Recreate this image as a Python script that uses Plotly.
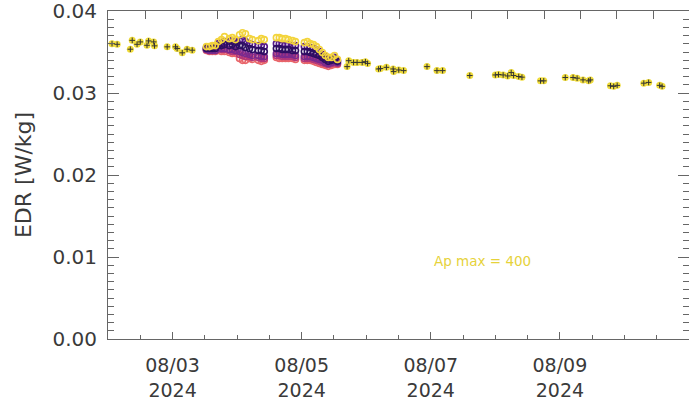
import pandas as pd
import plotly.graph_objects as go

base = pd.Timestamp("2024-08-02 00:00")

# Sparse EDR samples (hours since 2024-08-02 00:00)
sparse_hours = [1.5, 3.4, 8.3, 9.0, 10.8, 12.0, 14.5, 15.1, 17.0, 17.3, 22.0, 25.1, 25.7, 27.6, 29.4, 31.3,
                88.9, 89.5, 91.3, 92.6, 94.5, 95.7, 96.5, 100.6, 101.3, 103.5, 106.0, 106.2, 108.1, 109.9,
                118.6, 122.3, 124.4, 134.5, 144.0, 145.2, 146.9, 148.6, 149.9, 150.8, 152.7, 153.9,
                160.8, 162.0, 170.0, 172.9, 174.4, 176.6, 178.7, 179.3, 186.8, 188.0, 189.3,
                199.2, 201.0, 205.1, 206.0]
sparse_edr = [0.03602, 0.03594, 0.03534, 0.03642, 0.03594, 0.03623, 0.03582, 0.03635, 0.03623, 0.03575,
              0.03563, 0.03563, 0.03542, 0.03490, 0.03534, 0.03522,
              0.03322, 0.03394, 0.03373, 0.03373, 0.03373, 0.03382, 0.03361, 0.03293, 0.03298, 0.03313,
              0.03293, 0.03261, 0.03281, 0.03273, 0.03322, 0.03273, 0.03273, 0.03213, 0.03220, 0.03225,
              0.03220, 0.03208, 0.03249, 0.03213, 0.03201, 0.03193, 0.03148, 0.03148, 0.03189, 0.03189,
              0.03181, 0.03160, 0.03148, 0.03160, 0.03088, 0.03081, 0.03093, 0.03120, 0.03129, 0.03093,
              0.03081]

# Dense ensemble period (hours since 2024-08-02 00:00)
dense_hours = [36.6, 37.7, 38.8, 39.9, 41.0, 42.2, 43.3, 45.1, 46.2, 47.4, 48.9, 50.0, 51.1, 52.6, 53.7,
               55.9, 57.0, 58.1, 62.6, 63.7, 64.8, 66.0, 67.1, 68.6, 69.7, 73.0, 74.1, 75.2, 76.4, 77.5,
               78.6, 79.7, 80.8, 81.9, 83.1, 84.2, 85.3]
edr_yellow = [0.03566, 0.03566, 0.03578, 0.03578, 0.03627, 0.03651, 0.03687, 0.03663, 0.03675, 0.03651,
              0.03711, 0.03735, 0.03723, 0.03663, 0.03651, 0.03639, 0.03663, 0.03651, 0.03675, 0.03675,
              0.03663, 0.03663, 0.03651, 0.03639, 0.03627, 0.03614, 0.03627, 0.03602, 0.03590, 0.03566,
              0.03530, 0.03494, 0.03458, 0.03434, 0.03434, 0.03458, 0.03410]
edr_purple1 = [0.03554, 0.03554, 0.03566, 0.03578, 0.03602, 0.03614, 0.03627, 0.03627, 0.03639, 0.03614,
               0.03639, 0.03651, 0.03627, 0.03602, 0.03590, 0.03578, 0.03578, 0.03566, 0.03602, 0.03602,
               0.03590, 0.03590, 0.03590, 0.03578, 0.03578, 0.03566, 0.03566, 0.03554, 0.03542, 0.03530,
               0.03506, 0.03470, 0.03446, 0.03422, 0.03422, 0.03434, 0.03398]
edr_purple2 = [0.03542, 0.03542, 0.03542, 0.03542, 0.03578, 0.03578, 0.03590, 0.03578, 0.03590, 0.03566,
               0.03578, 0.03578, 0.03554, 0.03542, 0.03530, 0.03518, 0.03518, 0.03506, 0.03542, 0.03542,
               0.03530, 0.03530, 0.03530, 0.03518, 0.03518, 0.03506, 0.03506, 0.03494, 0.03482, 0.03470,
               0.03458, 0.03434, 0.03410, 0.03386, 0.03398, 0.03410, 0.03386]
edr_purple3 = [0.03530, 0.03518, 0.03518, 0.03518, 0.03554, 0.03542, 0.03542, 0.03530, 0.03530, 0.03518,
               0.03506, 0.03494, 0.03482, 0.03470, 0.03458, 0.03458, 0.03446, 0.03446, 0.03482, 0.03482,
               0.03470, 0.03470, 0.03470, 0.03470, 0.03458, 0.03446, 0.03446, 0.03446, 0.03434, 0.03422,
               0.03410, 0.03398, 0.03373, 0.03361, 0.03373, 0.03386, 0.03373]
edr_magenta = [0.03530, 0.03518, 0.03518, 0.03518, 0.03542, 0.03530, 0.03530, 0.03518, 0.03506, 0.03506,
               0.03470, 0.03458, 0.03446, 0.03446, 0.03434, 0.03434, 0.03422, 0.03422, 0.03458, 0.03458,
               0.03446, 0.03446, 0.03446, 0.03446, 0.03434, 0.03422, 0.03422, 0.03422, 0.03410, 0.03398,
               0.03386, 0.03373, 0.03361, 0.03349, 0.03361, 0.03373, 0.03361]
edr_red = [0.03518, 0.03506, 0.03506, 0.03506, 0.03518, 0.03506, 0.03506, 0.03494, 0.03482, 0.03482,
           0.03422, 0.03398, 0.03398, 0.03422, 0.03410, 0.03398, 0.03386, 0.03398, 0.03434, 0.03422,
           0.03422, 0.03422, 0.03422, 0.03422, 0.03410, 0.03398, 0.03398, 0.03398, 0.03386, 0.03373,
           0.03361, 0.03349, 0.03337, 0.03325, 0.03337, 0.03349, 0.03349]

y_ticks = [0.00, 0.01, 0.02, 0.03, 0.04]
annotation_text = "Ap max = 400"
annotation_time = "2024-08-07 19:12"
annotation_edr = 0.0095
y_title = "EDR [W/kg]"

sparse_t = [base + pd.Timedelta(hours=h) for h in sparse_hours]
dense_t = [base + pd.Timedelta(hours=h) for h in dense_hours]

fig = go.Figure()

dense_series = [
    (edr_red, "#e8656a"),
    (edr_magenta, "#b2367a"),
    (edr_purple3, "#7a2a8e"),
    (edr_purple1, "#55188a"),
    (edr_purple2, "#2d0f62"),
    (edr_yellow, "#f3d43c"),
]
for vals, col in dense_series:
    fig.add_trace(go.Scatter(x=dense_t, y=vals, mode="markers", showlegend=False,
                             marker=dict(symbol="circle-open", size=6, color=col,
                                         line=dict(width=1.6, color=col))))

fig.add_trace(go.Scatter(x=sparse_t, y=sparse_edr, mode="markers", showlegend=False,
                         marker=dict(symbol="circle", size=7, color="#f0dc3a")))
fig.add_trace(go.Scatter(x=sparse_t, y=sparse_edr, mode="markers", showlegend=False,
                         marker=dict(symbol="cross-thin", size=4, color="#333",
                                     line=dict(width=1, color="#333"))))
# top axis carrier
fig.add_trace(go.Scatter(x=[], y=[], xaxis="x2", yaxis="y", showlegend=False))

axis_col = "#666666"
text_col = "#3a3a3a"
font_fam = "DejaVu Sans"

fig.update_layout(
    width=689, height=403,
    margin=dict(l=108, r=0, t=11, b=64, autoexpand=False),
    paper_bgcolor="white", plot_bgcolor="white",
    font=dict(family=font_fam, color=text_col),
    xaxis=dict(
        type="date", automargin=False,
        range=[base, base + pd.Timedelta(days=9)],
        tickmode="linear", tick0="2024-08-03", dtick=2 * 86400000,
        tickformat="%m/%d<br>%Y",
        ticks="inside", ticklen=7, tickcolor=axis_col, tickwidth=1,
        minor=dict(dtick=43200000, tick0="2024-08-02", ticks="inside", ticklen=4, tickcolor=axis_col),
        showline=True, linecolor=axis_col, linewidth=1,
        showgrid=False, zeroline=False,
        tickfont=dict(size=19, color=text_col),
        ticklabelstandoff=9,
    ),
    xaxis2=dict(
        overlaying="x", side="top", anchor="y", automargin=False,
        range=[1.98, 17.99], tickmode="linear", tick0=0, dtick=4,
        ticks="inside", ticklen=8, tickcolor=axis_col,
        minor=dict(dtick=1, ticks="inside", ticklen=8, tickcolor=axis_col),
        showticklabels=False, showline=True, linecolor=axis_col, linewidth=1,
        showgrid=False, zeroline=False,
    ),
    yaxis=dict(
        range=[0, 0.04], tickvals=y_ticks, tickformat=".2f", automargin=False,
        ticks="inside", ticklen=11, tickcolor=axis_col,
        minor=dict(dtick=0.001, ticks="inside", ticklen=6, tickcolor=axis_col),
        showline=True, linecolor=axis_col, linewidth=1, mirror="ticks",
        showgrid=False, zeroline=False,
        tickfont=dict(size=20, color=text_col),
        ticklabelstandoff=6, ticklabeloverflow="allow",
        title=dict(text=y_title, font=dict(size=22, color=text_col), standoff=14),
    ),
    annotations=[dict(text=annotation_text, xref="x", yref="y", x=annotation_time, y=annotation_edr,
                      showarrow=False, font=dict(size=13.5, color="#e6d23a", family=font_fam))],
)

fig.write_html("out.html", config={"displayModeBar": False},
               post_script="document.body.style.margin='0';document.body.style.overflow='hidden';")
